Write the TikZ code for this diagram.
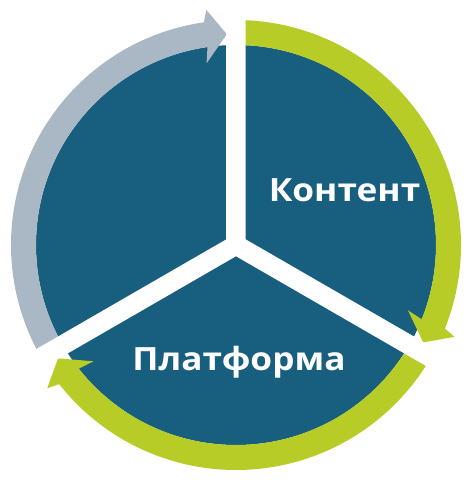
\documentclass[tikz,border=0pt]{standalone}
\usepackage{fontspec}
\usepackage{tikz}
\usetikzlibrary{calc}
\newfontfamily\labelfont[FakeStretch=1.1]{Open Sans}
\definecolor{discblue}{RGB}{24,94,126}
\definecolor{cyclegreen}{RGB}{183,204,38}
\definecolor{cyclegray}{RGB}{170,183,196}
% ring arrow: colour, start angle, head base angle, tip angle
\newcommand\cyclearrow[4]{%
\fill[#1] (#2:225) arc[start angle=#2,end angle=#3,radius=225]
  -- ({#3-1}:237) -- (#4:211) -- ({#3+1}:184) -- (#3:200)
  arc[start angle=#3,end angle=#2,radius=200] -- cycle;}

\begin{document}
\begin{tikzpicture}[x=1pt,y=1pt,
  gap/.style={white,line width=19.5pt},
  sectorlabel/.style={text=white,anchor=base,inner sep=0pt,
    font=\labelfont\bfseries\fontsize{32}{38}\selectfont}]
\useasboundingbox (-236,-235) rectangle (234,245);
\fill[discblue] (0,0) circle[radius=200];
\cyclearrow{cyclegreen}{90}{-21.8}{-27.5}
\cyclearrow{cyclegreen}{-30}{-141.8}{-147.5}
\cyclearrow{cyclegray}{210}{98.2}{92.5}
\coordinate (hub) at (0,0);
\draw[gap] (hub) -- (90:245)
           (hub) -- (210:245)
           (hub) -- (330:245);
\node[sectorlabel] (content) at (108.5,44) {Контент};
\node[sectorlabel] (platform) at (3,-125) {Платформа};
\end{tikzpicture}
\end{document}
